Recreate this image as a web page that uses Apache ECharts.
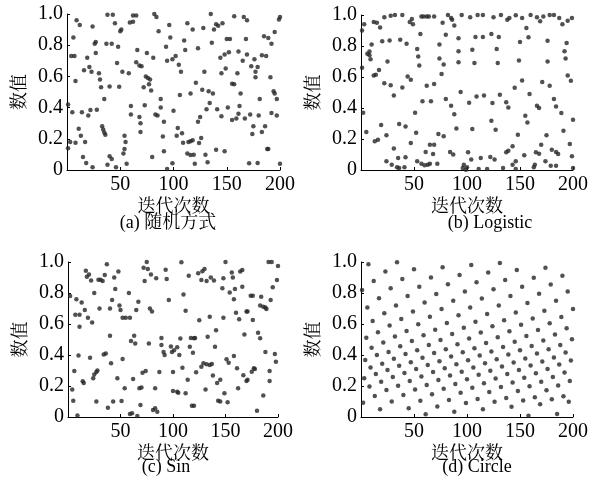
<!DOCTYPE html>
<html><head><meta charset="utf-8">
<script src="https://cdn.jsdelivr.net/npm/echarts@6/dist/echarts.min.js"></script>
<style>html,body{margin:0;padding:0;background:#fff}#c{width:592px;height:489px}</style>
</head><body><div id="c"></div>
<script>
// ---- data (x = iteration, y = value) ----
const xTicks = [50, 100, 150, 200];
const yTicks = [0, 0.2, 0.4, 0.6, 0.8, 1.0];
const xName = '迭代次数';
const yName = '数值';
const captions = ['(a) 随机方式', '(b) Logistic', '(c) Sin', '(d) Circle'];

const randomPts = [[1,0.42],[5,0.37],[1,0.14],[3,0.18],[9,0.96],[12,0.93],[6,0.85],[4,0.73],[7,0.73],[8,0.57],[8,0.175],[11,0.265],[13,0.22],[15,0.083],[14,0.37],[16,0.64],[17,0.18],[18,0.045],[19,0.72],[20,0.35],[21,0.66],[22,0.385],[23,0.63],[24,0.017],[24,0.92],[26,0.81],[27,0.82],[27,0.75],[28,0.387],[30,0.62],[31,0.58],[32,0.53],[33,0.28],[34,0.26],[35,0.24],[36,0.226],[35,0.455],[38,0.995],[43,0.995],[37,0.81],[42,0.81],[40,0.536],[40,0.088],[38,0.034],[42,0.07],[45,0.94],[46,0.017],[48,0.79],[47,0.686],[49,0.534],[50,0.89],[51,0.9],[52,0.63],[54,0.22],[55,0.18],[54,0.135],[53,0.105],[56,0.04],[59,0.946],[62,0.99],[65,0.99],[62,0.95],[58,0.62],[60,0.41],[60,0.355],[65,0.69],[66,0.77],[68,0.67],[70,0.665],[72,0.53],[73,0.415],[68,0.34],[69,0.30],[69,0.244],[75,0.75],[74,0.6],[76,0.59],[78,0.58],[77,0.55],[79,0.51],[80,0.083],[82,1.0],[84,0.98],[86,0.89],[81,0.72],[83,0.355],[85,0.35],[88,0.455],[88,0.40],[90,0.215],[91,0.31],[93,0.79],[96,0.93],[97,0.85],[94,0.70],[91,0.12],[99,0.71],[100,0.38],[99,0.043],[94,0.006],
[102,0.73],[105,0.675],[107,0.63],[104,0.27],[103,0.22],[108,0.235],[110,0.83],[111,0.77],[113,0.94],[118,0.90],[106,0.48],[109,0.175],[114,0.18],[116,0.184],[118,0.19],[113,0.105],[116,0.096],[119,0.098],[120,0.04],[123,0.78],[121,0.56],[116,0.49],[126,0.205],[124,0.173],[123,0.31],[125,0.34],[128,0.91],[129,0.63],[127,0.515],[133,0.505],[137,0.49],[131,0.39],[130,0.098],[132,0.05],[135,1.0],[138,0.90],[140,0.935],[142,0.925],[146,0.94],[136,0.815],[134,0.43],[140,0.13],[141,0.39],[145,0.345],[148,0.12],[144,0.72],[148,0.74],[152,0.755],[145,0.62],[149,0.65],[150,0.84],[153,0.84],[151,0.40],[155,0.553],[157,0.55],[155,0.32],[159,0.33],[157,0.985],[161,0.76],[160,0.62],[162,0.41],[163,0.49],[161,0.36],[165,0.70],[166,0.98],[169,0.96],[168,0.84],[169,0.74],[167,0.33],[172,0.355],[171,0.043],[173,0.665],[179,0.66],[176,0.71],[177,0.63],[177,0.595],[175,0.28],[174,0.23],[180,0.35],[179,0.045],[181,0.455],[186,0.28],[183,0.244],[185,0.857],[189,0.846],[192,0.81],[195,0.885],[183,0.735],[187,0.73],[191,0.595],[194,0.505],[195,0.49],[197,0.455],[192,0.365],[197,0.35],[188,0.135],[189,0.135],[199,0.965],[200,0.98],[200,0.04]];

const logisticPts = [[1,0.90],[3,0.94],[1,0.66],[2,0.37],[5,0.245],[10,0.81],[6,0.75],[8,0.765],[8,0.74],[9,0.715],[12,0.955],[15,0.95],[12,0.61],[14,0.615],[17,0.645],[18,0.92],[13,0.185],[16,0.195],[19,0.29],[20,0.83],[22,0.985],[28,0.995],[32,1.0],[39,1.0],[22,0.56],[24,0.225],[25,0.70],[27,0.835],[28,0.546],[31,0.48],[24,0.056],[29,0.034],[31,0.138],[34,0.017],[35,0.077],[36,0.013],[41,0.017],[37,0.84],[39,0.533],[36,0.297],[42,0.28],[42,0.082],[43,0.815],[46,0.955],[48,0.975],[44,0.604],[47,0.583],[47,0.174],[49,0.94],[52,0.24],[53,0.056],[53,0.78],[54,0.733],[55,0.675],[51,0.37],[57,0.99],[59,0.99],[62,0.99],[64,0.99],[69,0.99],[56,0.877],[57,0.04],[60,0.03],[63,0.034],[65,0.04],[61,0.116],[65,0.163],[62,0.544],[58,0.443],[66,0.443],[69,0.555],[69,0.163],[73,0.232],[78,0.217],[68,0.103],[72,0.04],[74,0.72],[74,0.81],[76,0.62],[77,0.95],[78,0.68],[80,0.873],[82,1.0],[85,0.98],[86,0.97],[88,0.933],[92,0.85],[92,0.766],[92,0.695],[80,0.458],[85,0.415],[88,0.36],[84,0.116],[87,0.1],[90,0.267],[94,0.503],[95,1.0],[101,0.114],[96,0.013],[99,0.002],[97,0.034],[102,0.434],
[103,0.985],[105,0.776],[107,0.69],[110,1.0],[108,0.858],[109,0.475],[104,0.067],[113,0.077],[115,1.0],[116,0.48],[115,0.858],[122,0.084],[123,0.318],[123,0.877],[125,0.985],[124,0.432],[126,0.067],[128,0.78],[129,0.69],[130,0.858],[131,0.486],[127,0.26],[132,1.0],[137,0.437],[139,0.404],[138,0.97],[140,0.98],[137,0.114],[139,0.125],[143,0.153],[145,0.53],[146,0.998],[143,0.034],[146,0.056],[148,0.228],[150,0.826],[149,0.707],[152,0.98],[152,0.578],[154,0.095],[155,0.35],[157,0.307],[156,0.916],[158,0.856],[159,0.49],[160,1.0],[164,0.034],[165,0.114],[168,0.105],[166,0.415],[168,0.4],[166,0.985],[169,0.96],[172,0.99],[170,0.163],[171,0.568],[174,0.056],[175,0.224],[176,0.834],[176,0.70],[178,0.544],[178,1.0],[182,1.0],[179,0.028],[184,0.028],[182,0.458],[184,0.41],[180,0.131],[184,0.116],[186,0.103],[189,0.368],[191,0.254],[190,0.94],[194,0.82],[192,0.766],[193,0.72],[195,0.61],[198,0.576],[195,0.963],[199,0.98],[197,0.168],[199,0.088],[200,0.325],[187,0.98],[105,0.265],[100,0.017],[111,0.006],[119,0.006],[134,0.013],[146,0.006],[163,0.017],[200,0.013]];

const sinPts = [[2,0.78],[4,0.178],[5,0.105],[7,0.66],[11,0.66],[6,0.297],[8,0.76],[9,0.01],[10,0.396],[11,0.583],[13,0.738],[14,0.23],[15,0.22],[16,0.69],[17,0.944],[18,0.905],[20,0.92],[19,0.64],[22,0.88],[21,0.383],[23,0.61],[25,0.80],[24,0.25],[25,0.275],[27,0.29],[28,0.30],[27,0.10],[29,0.885],[31,0.885],[33,0.877],[30,0.70],[34,0.404],[36,0.41],[35,0.916],[37,0.985],[38,0.06],[43,0.10],[40,0.525],[41,0.346],[42,0.755],[44,0.90],[45,0.826],[40,0.70],[48,0.938],[49,0.72],[50,0.69],[47,0.25],[51,0.103],[52,0.374],[54,0.185],[52,0.64],[55,0.64],[59,0.64],[58,0.80],[60,0.49],[63,0.525],[64,0.475],[59,0.02],[61,0.024],[66,0.006],[62,0.245],[65,0.69],[67,0.744],[68,0.185],[69,0.077],[70,0.19],[71,0.286],[74,0.297],[72,0.963],[76,0.955],[73,0.877],[75,1.0],[77,0.475],[78,0.70],[80,0.68],[79,0.92],[84,0.895],[81,0.045],[83,0.056],[85,0.034],[83,0.185],[87,0.29],[89,0.465],[91,0.42],[92,0.40],[89,0.51],[93,0.95],[94,0.89],[96,0.755],[100,0.29],[100,0.167],
[98,0.455],[99,0.42],[101,0.43],[104,0.45],[108,0.998],[110,0.79],[112,0.685],[107,0.507],[106,0.40],[109,0.318],[104,0.163],[105,0.157],[112,0.153],[114,0.24],[115,0.912],[117,0.51],[120,0.508],[121,0.51],[116,0.454],[119,0.415],[118,0.073],[120,0.073],[122,0.288],[124,0.927],[128,0.94],[130,0.955],[127,0.884],[132,0.877],[125,0.624],[127,0.325],[129,0.346],[132,0.34],[131,0.178],[135,0.647],[133,0.518],[135,0.335],[137,0.342],[136,0.9],[139,0.88],[141,0.56],[140,0.454],[138,0.267],[142,0.22],[145,0.24],[148,0.64],[143,0.105],[145,0.1],[148,0.895],[147,0.83],[150,1.0],[149,0.153],[152,0.095],[151,0.372],[153,0.35],[156,0.933],[157,0.9],[154,0.804],[158,0.394],[158,0.76],[159,0.826],[160,0.673],[161,0.314],[162,0.185],[163,0.63],[164,0.938],[166,0.948],[166,0.84],[167,0.27],[168,0.533],[170,0.232],[171,0.24],[170,0.68],[171,0.68],[174,0.783],[176,0.783],[176,0.626],[175,0.292],[177,0.314],[178,0.31],[180,0.04],[181,0.544],[183,0.508],[183,0.72],[186,0.712],[188,0.707],[189,0.697],[184,0.776],[186,0.138],[188,0.42],[191,1.0],[194,1.0],[192,0.297],[192,0.232],[193,0.755],[195,0.837],[197,0.406],[198,0.357],[199,0.884],[200,0.975]];

// Circle map values, iteration 1..200 in order
const circleVals = [0.82,0.092,0.25,0.368,0.512,0.707,0.985,0.196,0.32,0.447,
0.62,0.877,0.135,0.277,0.40,0.546,0.766,0.05,0.228,0.344,
0.48,0.67,0.938,0.174,0.303,0.42,0.59,0.83,0.10,0.258,
0.376,0.52,0.72,0.998,0.202,0.33,0.456,0.632,0.89,0.142,
0.284,0.406,0.555,0.78,0.056,0.232,0.353,0.49,0.68,0.953,
0.178,0.31,0.43,0.598,0.84,0.105,0.262,0.383,0.527,0.738,
0.017,0.206,0.335,0.465,0.647,0.90,0.146,0.29,0.413,0.563,
0.794,0.067,0.239,0.36,0.497,0.697,0.966,0.183,0.314,0.437,
0.606,0.856,0.11,0.267,0.39,0.535,0.75,0.034,0.213,0.34,
0.47,0.656,0.916,0.157,0.292,0.417,0.576,0.81,0.09,0.243,
0.366,0.507,0.707,0.98,0.188,0.32,0.444,0.615,0.87,0.116,
0.272,0.397,0.545,0.765,0.05,0.218,0.346,0.478,0.665,0.932,
0.162,0.298,0.423,0.585,0.825,0.098,0.248,0.372,0.515,0.72,
0.994,0.193,0.326,0.451,0.625,0.884,0.122,0.277,0.404,0.553,
0.78,0.066,0.223,0.352,0.486,0.675,0.948,0.167,0.304,0.43,
0.595,0.84,0.106,0.253,0.378,0.523,0.735,0.008,0.198,0.332,
0.458,0.635,0.898,0.128,0.282,0.41,0.562,0.795,0.082,0.228,
0.358,0.494,0.685,0.963,0.172,0.31,0.437,0.605,0.855,0.114,
0.258,0.384,0.532,0.75,0.02,0.203,0.338,0.465,0.645,0.912,
0.134,0.287,0.416,0.572,0.81,0.098,0.233,0.364,0.502,0.697];

// ---- chart ----
const serif = "'Liberation Serif','Times New Roman',serif";
const mixed = "'Liberation Serif','Noto Serif CJK SC','Noto Sans CJK SC',serif";
const grids = [
  {left: 67, top: 14, width: 213, height: 156},
  {left: 361, top: 15, width: 212, height: 155},
  {left: 68, top: 262, width: 210, height: 155},
  {left: 361, top: 262, width: 212, height: 155}
];
const capPos = [[168, 223], [490, 223], [166, 467], [477, 467]];
const circlePts = circleVals.map((v, i) => [i + 1, v]);
const allData = [randomPts, logisticPts, sinPts, circlePts];

const xAxes = [], yAxes = [], series = [], graphics = [];
grids.forEach((g, k) => {
  xAxes.push({
    gridIndex: k, type: 'value', min: 0, max: 200, interval: 50,
    name: xName, nameLocation: 'middle', nameGap: 28,
    nameTextStyle: {fontFamily: mixed, fontSize: 18, color: '#000'},
    axisLine: {show: true, onZero: false, lineStyle: {color: '#000', width: 1}},
    axisTick: {show: true, inside: true, length: 3, lineStyle: {color: '#000'}},
    axisLabel: {show: true, margin: 5, fontFamily: serif, fontSize: 20, color: '#000',
      formatter: v => (xTicks.indexOf(v) >= 0 ? String(v) : '')},
    splitLine: {show: false}
  });
  yAxes.push({
    gridIndex: k, type: 'value', min: 0, max: 1, interval: 0.2,
    name: yName, nameLocation: 'middle', nameGap: 38, nameRotate: 90,
    nameTextStyle: {fontFamily: mixed, fontSize: 18, color: '#000'},
    axisLine: {show: true, onZero: false, lineStyle: {color: '#000', width: 1}},
    axisTick: {show: true, inside: true, length: 3, lineStyle: {color: '#000'}},
    axisLabel: {show: true, margin: 4, fontFamily: serif, fontSize: 20, color: '#000',
      formatter: v => (Math.abs(v) < 1e-9 ? '0' : v.toFixed(1))},
    splitLine: {show: false}
  });
  series.push({
    type: 'scatter', xAxisIndex: k, yAxisIndex: k, data: allData[k],
    symbol: 'circle', symbolSize: 4.5, silent: true,
    itemStyle: {color: '#262626'}
  });
  graphics.push({
    type: 'text', x: capPos[k][0], y: capPos[k][1],
    style: {text: captions[k], font: '18px ' + mixed, fill: '#000',
      textAlign: 'center', textVerticalAlign: 'middle', align: 'center', verticalAlign: 'middle'}
  });
});

const chart = echarts.init(document.getElementById('c'), null, {renderer: 'canvas'});
chart.setOption({
  animation: false,
  backgroundColor: '#fff',
  grid: grids,
  xAxis: xAxes,
  yAxis: yAxes,
  series: series,
  graphic: graphics
});
</script>
</body></html>
